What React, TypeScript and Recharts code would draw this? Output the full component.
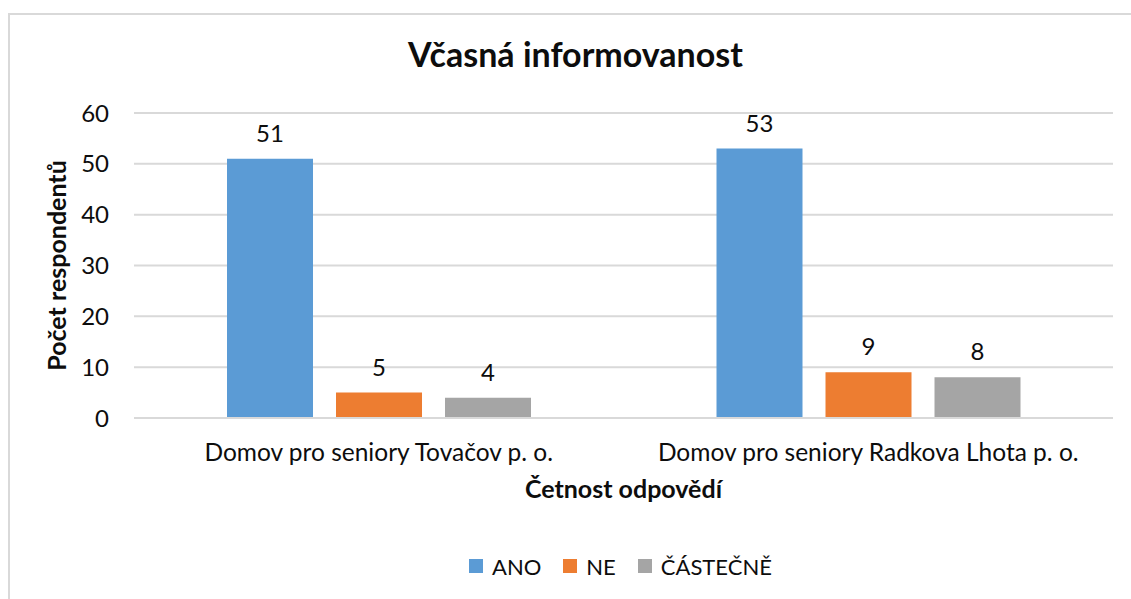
import React from "react";
import { BarChart, Bar, XAxis, YAxis, CartesianGrid, LabelList } from "recharts";

const categories = ["Domov pro seniory Tovačov p. o.", "Domov pro seniory Radkova Lhota p. o."];
const ano = [51, 53];
const ne = [5, 9];
const castecne = [4, 8];
const yTicks = [0, 10, 20, 30, 40, 50, 60];

const seriesNames = ["ANO", "NE", "ČÁSTEČNĚ"];
const colors = ["#5B9BD5", "#ED7D31", "#A5A5A5"];

const data = categories.map((c, i) => ({ name: c, ano: ano[i], ne: ne[i], castecne: castecne[i] }));

const FONT = "Lato, 'Open Sans', sans-serif";
const TEXT = "#0d0d0d";

const LegendBox = () => (
  <div style={{ position: "absolute", left: 469, top: 552, height: 28, display: "flex", alignItems: "center", fontFamily: FONT, fontSize: 22, color: TEXT, whiteSpace: "nowrap" }}>
    {seriesNames.map((n, i) => (
      <div key={n} style={{ display: "flex", alignItems: "center", marginRight: i < 2 ? 22 : 0 }}>
        <div style={{ width: 14, height: 14, background: colors[i], marginRight: 9 }} />
        <span>{n}</span>
      </div>
    ))}
  </div>
);

export default function App() {
  return (
    <div style={{ position: "fixed", left: 0, top: 0, width: 1131, height: 599, overflow: "hidden", background: "#fff" }}>
      <div style={{ position: "absolute", left: 8, top: 13, width: 1140, height: 700, border: "2px solid #D9D9D9", boxSizing: "border-box" }} />
      <div style={{ position: "absolute", left: 0, top: 33, width: 1151, textAlign: "center", fontFamily: FONT, fontWeight: 700, fontSize: 34, color: TEXT, lineHeight: "42px" }}>
        Včasná informovanost
      </div>
      <div style={{ position: "absolute", left: 0, top: 0 }}>
        <BarChart width={1131} height={599} data={data} margin={{ top: 113, right: 18, left: 40, bottom: 91 }} barCategoryGap="19%" barGap={23}>
          <CartesianGrid vertical={false} stroke="#D9D9D9" strokeWidth={2} />
          <XAxis
            dataKey="name"
            height={90}
            axisLine={{ stroke: "#D9D9D9", strokeWidth: 2 }}
            tickLine={false}
            tickSize={6}
            tickMargin={20}
            tick={{ fontFamily: FONT, fontSize: 24.5, fill: TEXT }}
            label={{ value: "Četnost odpovědí", position: "insideBottom", offset: 10, style: { fontFamily: FONT, fontSize: 25, fontWeight: 700, fill: TEXT } }}
          />
          <YAxis
            width={94}
            domain={[0, 60]}
            ticks={yTicks}
            axisLine={false}
            tickLine={false}
            tickSize={6}
            tickMargin={19}
            tick={{ fontFamily: FONT, fontSize: 24, fill: TEXT }}
            label={{ value: "Počet respondentů", angle: -90, position: "insideLeft", offset: 17, style: { textAnchor: "middle", fontFamily: FONT, fontSize: 25, fontWeight: 700, fill: TEXT } }}
          />
          <Bar dataKey="ano" name={seriesNames[0]} fill={colors[0]} isAnimationActive={false}>
            <LabelList dataKey="ano" position="top" offset={17} style={{ fontFamily: FONT, fontSize: 24, fill: TEXT }} />
          </Bar>
          <Bar dataKey="ne" name={seriesNames[1]} fill={colors[1]} isAnimationActive={false}>
            <LabelList dataKey="ne" position="top" offset={17} style={{ fontFamily: FONT, fontSize: 24, fill: TEXT }} />
          </Bar>
          <Bar dataKey="castecne" name={seriesNames[2]} fill={colors[2]} isAnimationActive={false}>
            <LabelList dataKey="castecne" position="top" offset={17} style={{ fontFamily: FONT, fontSize: 24, fill: TEXT }} />
          </Bar>
        </BarChart>
      </div>
      <LegendBox />
    </div>
  );
}
